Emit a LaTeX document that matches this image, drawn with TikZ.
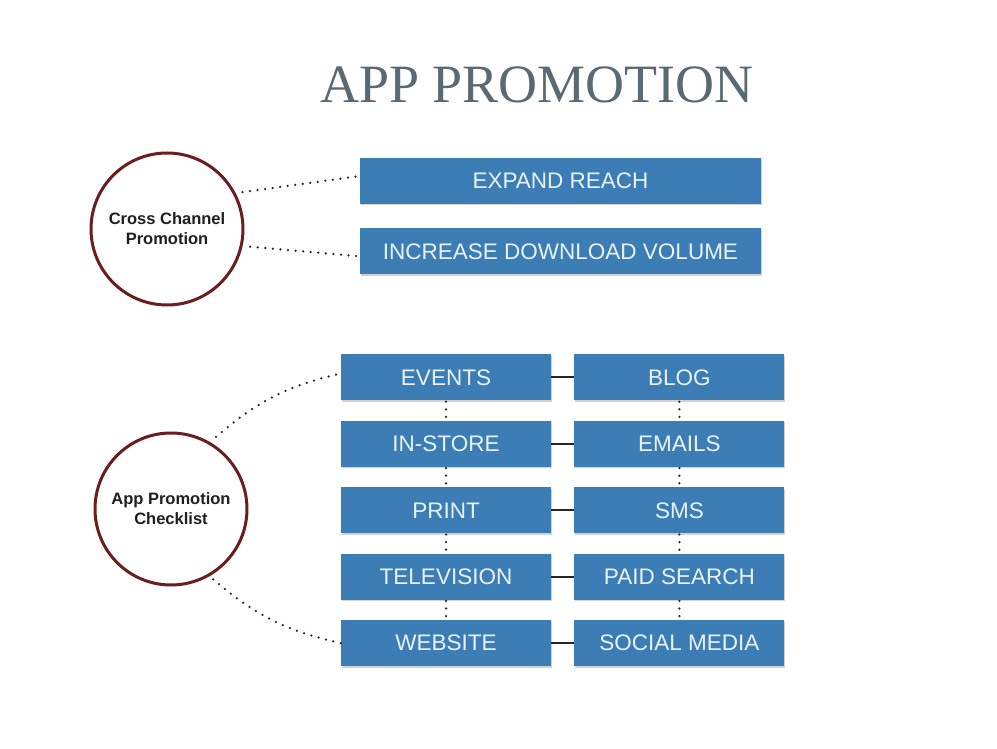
\documentclass[tikz,border=0pt]{standalone}
\usepackage{fontspec}
\setmainfont{Liberation Serif}
\setsansfont{Liberation Sans}
\usetikzlibrary{positioning,calc,shadows}
\definecolor{promoblue}{HTML}{3B7DB4}
\definecolor{promotext}{HTML}{EAF2F8}
\definecolor{ringred}{HTML}{6B1D1F}
\definecolor{titlegray}{HTML}{5A6A74}

\begin{document}
\begin{tikzpicture}[x=1pt, y=1pt,
  pbox/.style={fill=promoblue, text=promotext, font=\sffamily\fontsize{22.5}{26}\selectfont, minimum height=46pt, inner sep=0pt, drop shadow={shadow xshift=0.6pt, shadow yshift=-1.4pt, opacity=0.35}},
  pwide/.style={pbox, minimum width=401pt},
  pcell/.style={pbox, minimum width=210pt},
  pring/.style={circle, draw=ringred, line width=3pt, fill=white, minimum size=152pt, inner sep=0pt, align=center, font=\sffamily\bfseries\fontsize{16.5}{20}\selectfont, text=black!88},
  pdots/.style={line width=2.5pt, line cap=round, dash pattern=on 0pt off 7.6pt, black!85},
  plink/.style={line width=2pt, black!85},
]
\useasboundingbox[fill=white] (0,0) rectangle (997,748);
\node[font=\fontsize{54}{60}\selectfont, text=titlegray, anchor=base] (title) at (537,645) {APP PROMOTION};
% circles
\node[pring] (cross) at (167,519) {Cross Channel\\Promotion};
\node[pring] (check) at (171,239) {App Promotion\\Checklist};
% top boxes
\node[pwide] (expand) at (560.5,567) {EXPAND REACH};
\node[pwide, below=24pt of expand] (volume) {INCREASE DOWNLOAD VOLUME};
% checklist grid
\node[pcell] (events) at (446,370.5) {EVENTS};
\node[pcell, below=20pt of events] (instore) {IN-STORE};
\node[pcell, below=20pt of instore] (print) {PRINT};
\node[pcell, below=20pt of print] (tv) {TELEVISION};
\node[pcell, below=20pt of tv] (website) {WEBSITE};
\node[pcell, right=23pt of events] (blog) {BLOG};
\node[pcell, right=23pt of instore] (emails) {EMAILS};
\node[pcell, right=23pt of print] (sms) {SMS};
\node[pcell, right=23pt of tv] (search) {PAID SEARCH};
\node[pcell, right=23pt of website] (social) {SOCIAL MEDIA};
% dotted leaders
\path (cross) ++(26:84) coordinate (crossup);
\path (cross) ++(-12:85) coordinate (crossdown);
\path (check) ++(58:85) coordinate (checkup);
\path (check) ++(-59:82) coordinate (checkdown);
\draw[pdots] (crossup) -- ([yshift=5pt]expand.west);
\draw[pdots] (crossdown) -- ([yshift=-5pt]volume.west);
\draw[pdots] (checkup) to[bend left=14] ([yshift=4pt]events.west);
\draw[pdots] (checkdown) to[bend right=14] (website.west);
% grid links
\foreach \a/\b in {events/blog, instore/emails, print/sms, tv/search, website/social}
  \draw[plink] (\a.east) -- (\b.west);
\foreach \a/\b in {events/instore, instore/print, print/tv, tv/website, blog/emails, emails/sms, sms/search, search/social}
  \draw[pdots, shorten <=1pt, shorten >=1pt] (\a.south) -- (\b.north);
\end{tikzpicture}
\end{document}
